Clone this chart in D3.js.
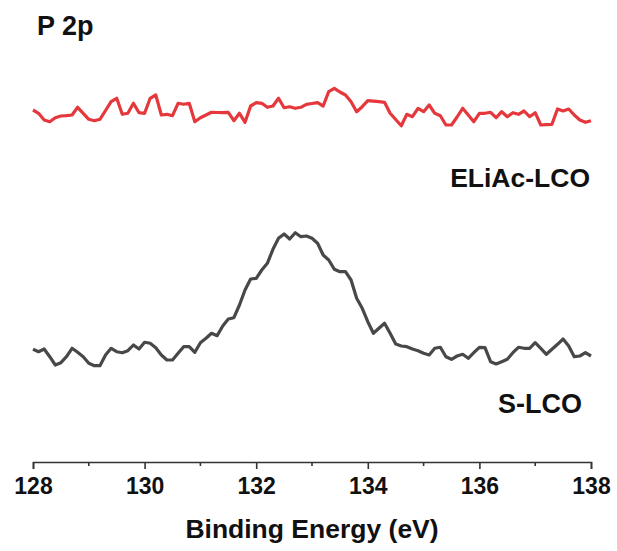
<!DOCTYPE html>
<html>
<head>
<meta charset="utf-8">
<script src="https://cdn.jsdelivr.net/npm/d3@7/dist/d3.min.js"></script>
<style>
  html, body { margin: 0; padding: 0; background: #fff; }
  svg { display: block; }
  text { font-family: "Liberation Sans", Arial, Helvetica, sans-serif; font-weight: bold; fill: #111; }
</style>
</head>
<body>
<svg id="chart" width="617" height="551"></svg>
<script>
// P 2p XPS spectra, 0.1 eV step from 128 to 138 eV (intensities in a.u., stacked)
const beStart = 128, beStep = 0.1;

const eliacLCO = [
  3520, 3487, 3420, 3403, 3443, 3460, 3463, 3470, 3547, 3487, 3427,
  3413, 3427, 3515, 3603, 3637, 3477, 3487, 3587, 3493, 3487,
  3637, 3670, 3470, 3477, 3463, 3587, 3577, 3587, 3403, 3443,
  3470, 3497, 3495, 3494, 3497, 3413, 3487, 3397, 3560, 3593,
  3587, 3547, 3560, 3637, 3543, 3553, 3537, 3547, 3577, 3585,
  3593, 3560, 3703, 3737, 3700, 3670, 3603, 3503, 3553, 3613,
  3608, 3603, 3597, 3487, 3425, 3363, 3477, 3453, 3537, 3503,
  3570, 3487, 3463, 3370, 3370, 3450, 3537, 3470, 3403, 3487,
  3487, 3497, 3443, 3503, 3453, 3493, 3477, 3510, 3453, 3493,
  3370, 3373, 3377, 3530, 3510, 3530, 3470, 3420, 3397, 3413
];

const sLCO = [
  1127, 1103, 1130, 1053, 970, 993, 1053, 1137, 1097, 1053, 987,
  963, 963, 1070, 1137, 1103, 1093, 1113, 1170, 1130, 1197,
  1187, 1143, 1070, 1020, 1020, 1087, 1153, 1153, 1097, 1193,
  1237, 1287, 1263, 1360, 1430, 1443, 1570, 1720, 1830, 1837,
  1920, 1987, 2127, 2237, 2280, 2230, 2293, 2253, 2260, 2237,
  2187, 2070, 2020, 1927, 1903, 1903, 1820, 1637, 1537, 1403,
  1287, 1337, 1387, 1287, 1180, 1160, 1153, 1130, 1113, 1087,
  1070, 1137, 1147, 1053, 1027, 1060, 1077, 1037, 1093, 1147,
  1143, 1003, 980, 1003, 1027, 1093, 1147, 1137, 1137, 1193,
  1137, 1077, 1127, 1177, 1230, 1160, 1053, 1060, 1093, 1060
];

const majorTicks = [128, 130, 132, 134, 136, 138];
const minorTicks = [129, 131, 133, 135, 137];

const seriesNames = ["ELiAc-LCO", "S-LCO"];
const seriesColors = ["#e5383d", "#484848"];

const svg = d3.select("#chart");
const left = 33, right = 591, axisY = 462;

const x = d3.scaleLinear().domain([128, 138]).range([left, right]);
const y = d3.scaleLinear().domain([0, 4000]).range([axisY, 62]);

const line = d3.line()
  .x((d, i) => x(beStart + i * beStep))
  .y(d => y(d));

[eliacLCO, sLCO].forEach((s, k) => {
  svg.append("path")
    .datum(s)
    .attr("fill", "none")
    .attr("stroke", seriesColors[k])
    .attr("stroke-width", 3.2)
    .attr("stroke-linejoin", "round")
    .attr("d", line);
});

// bottom axis: labelled major ticks, short minor ticks
const axisG = svg.append("g").attr("transform", `translate(0,${axisY})`);
axisG.call(d3.axisBottom(x).tickValues(majorTicks).tickSize(7).tickPadding(9).tickFormat(d3.format("d")))
  .call(g => g.select(".domain").attr("stroke", "#333").attr("stroke-width", 1.6))
  .call(g => g.selectAll(".tick line").attr("stroke", "#333").attr("stroke-width", 1.6))
  .call(g => g.selectAll(".tick text")
    .attr("fill", "#111")
    .style("font-family", '"Liberation Sans", Arial, sans-serif')
    .style("font-weight", "bold")
    .style("font-size", "23px"));

axisG.selectAll(".minor")
  .data(minorTicks)
  .enter().append("line")
  .attr("class", "minor")
  .attr("x1", d => x(d)).attr("x2", d => x(d))
  .attr("y1", 0).attr("y2", 4)
  .attr("stroke", "#333").attr("stroke-width", 1.6);

svg.append("text")
  .attr("x", (left + right) / 2)
  .attr("y", 538)
  .attr("text-anchor", "middle")
  .style("font-size", "26.5px")
  .text("Binding Energy (eV)");

svg.append("text")
  .attr("x", 37).attr("y", 35)
  .style("font-size", "27px")
  .text("P 2p");

svg.append("text")
  .attr("x", 590).attr("y", 187)
  .attr("text-anchor", "end")
  .style("font-size", "26.5px")
  .text(seriesNames[0]);

svg.append("text")
  .attr("x", 582).attr("y", 413)
  .attr("text-anchor", "end")
  .style("font-size", "27px")
  .text(seriesNames[1]);
</script>
</body>
</html>
